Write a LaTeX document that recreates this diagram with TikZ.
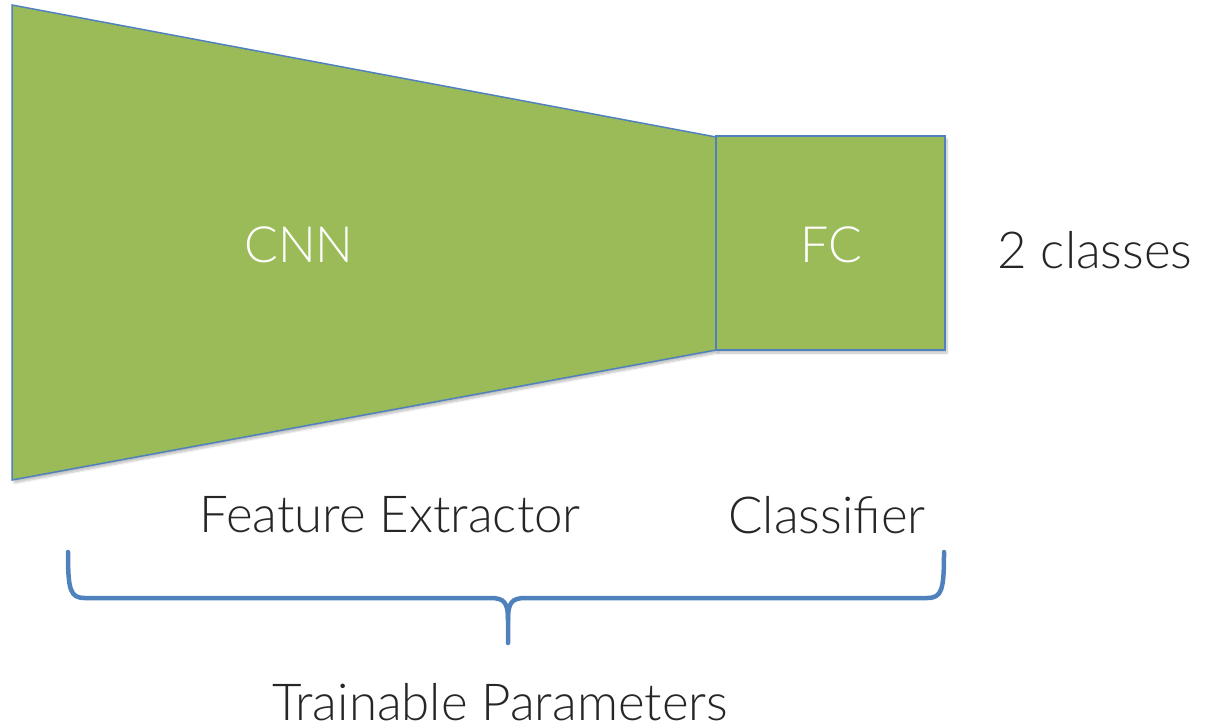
\documentclass[tikz,border=0pt]{standalone}
\usepackage{fontspec}
\setmainfont{Lato Light}
\usetikzlibrary{shadows.blur}
\definecolor{leaf}{HTML}{9BBB59}
\definecolor{edge}{HTML}{4F81BD}
\tikzset{
  block/.style={fill=leaf, draw=edge, line width=1.5pt, line join=miter,
    blur shadow={shadow xshift=2pt, shadow yshift=-3pt, shadow opacity=25, shadow blur steps=6}},
  inlabel/.style={text=white, font=\fontsize{50}{50}\selectfont},
  outlabel/.style={text=black!85, font=\fontsize{51}{51}\selectfont},
  bracket/.style={draw=edge, line width=4.5pt, line cap=round, line join=round}
}
\begin{document}
\begin{tikzpicture}[x=1pt, y=-1pt]
\useasboundingbox (0,0) rectangle (1214,726);
% convolutional feature extractor (tapering)
\path[block] (12,5) -- (716,137) -- (716,350) -- (12,480) -- cycle;
% fully connected head
\path[block] (716,136) rectangle (945,350);
\node[inlabel] (cnn) at (299,245) {CNN};
\node[inlabel] (fc) at (831,245) {FC};
\node[outlabel, anchor=west] (cls) at (994,250) {2 classes};
\node[outlabel] (fe) at (390,515) {Feature Extractor};
\node[outlabel] (cf) at (827,515) {Classifier};
% curly brace under both parts
\path[bracket] (68,552) .. controls (68,590) and (70,598) .. (85,598)
  -- (490,598) .. controls (504,598) and (508,602) .. (508,620) -- (508,643);
\path[bracket] (944,552) .. controls (944,590) and (942,598) .. (927,598)
  -- (526,598) .. controls (512,598) and (508,602) .. (508,620);
\node[outlabel] (tp) at (500,702) {Trainable Parameters};
\end{tikzpicture}
\end{document}
